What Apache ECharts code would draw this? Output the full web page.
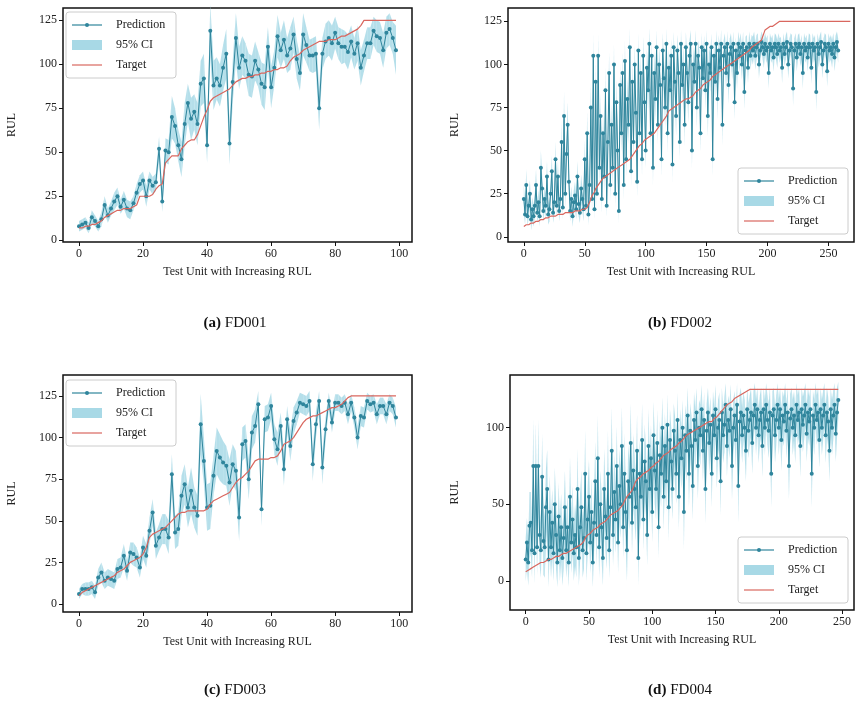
<!DOCTYPE html>
<html lang="en">
<head>
  <meta charset="UTF-8">
  <title>RUL prediction</title>
  <script src="https://cdn.jsdelivr.net/npm/echarts@6/dist/echarts.min.js"></script>
</head>
<body style="margin:0;background:#fff">
  <div id="main" style="width:859px;height:705px;"></div>
  <script>
    // values (estimates)
    const predA = [8,9,10,7,13,11,8,12,20,14, 18,22,25,19,23,18,17,21,27,32, 34,25,34,31,33,52,22,51,50,70,
      65,54,46,66,78,69,73,66,89,92, 54,119,88,92,88,98,106,55,90,115, 98,105,102,94,93,102,97,89,87,110,
      87,98,116,108,114,105,109,117,103,95, 117,111,105,105,106,75,106,113,115,112, 118,112,110,110,107,113,106,112,98,105,
      112,112,119,116,115,108,118,120,115,108];
    const targetA = [7,7,8,8,9,9,10,11,13,14, 15,16,17,17,18,18,18,19,20,25, 25,25,25,26,29,31,32,44,46,48,
      48,48,52,54,56,57,57,60,65,70, 74,79,81,82,83,84,85,86,88,90, 91,92,92,93,93,94,94,95,95,96,
      96,97,97,98,98,99,102,104,105,106, 108,109,110,111,112,113,113,113,114,114, 114,115,116,116,117,118,119,120,122,125,
      125,125,125,125,125,125,125,125,125,125];
    const ciA = [3,3,3,3,4,3,3,4,5,4, 4,5,5,4,5,5,5,4,5,5, 5,6,5,5,5,7,6,7,7,12, 10,9,10,12,11,12,10,12,13,14,
      10,15,14,12,12,13,14,12,12,14, 12,11,10,12,12,11,10,12,13,11, 12,10,12,10,11,10,12,10,11,10,
      12,10,9,10,10,12,9,10,10,10, 9,9,10,9,10,9,9,10,10,9, 9,9,8,9,9,10,9,9,9,14];

    const predB = [22,13,30,12,18,25,10,16,12,18, 30,14,20,12,40,28,15,22,18,35, 13,16,25,38,14,20,45,18,35,15,
      22,55,17,70,25,48,65,32,15,22, 12,20,24,16,35,19,14,28,22,16, 45,18,60,13,30,75,22,105,16,90,
      25,105,40,70,22,60,35,85,18,55, 95,30,65,40,100,25,78,50,15,88, 60,95,30,102,45,80,65,110,38,90,
      55,100,72,32,108,60,95,45,105,78, 50,98,85,112,60,105,40,95,80,110, 65,100,88,45,108,92,75,112,60,98,
      85,105,42,110,90,70,108,95,55,112, 88,100,65,110,95,78,105,112,50,100, 90,112,75,105,98,60,110,92,108,85,
      112,70,100,95,110,45,105,90,112,80, 108,98,112,65,105,110,95,112,88,106, 110,100,112,78,108,95,112,105,110,100,
      112,84,108,110,98,112,105,110,108,112, 105,110,112,100,108,113,110,106,112,108, 110,95,112,108,110,104,112,110,106,112,
      108,110,98,112,106,110,113,100,108,112, 110,86,108,112,104,110,112,106,110,95, 112,108,110,104,112,110,98,112,108,110,
      84,112,106,110,113,100,108,112,110,96, 112,108,110,106,112,104,110,113,108];
    const targetB = [6,6,7,7,7,8,8,8,8,9, 9,9,9,10,10,10,10,11,11,11, 11,11,12,12,12,12,12,13,13,13,
      13,13,13,13,14,14,14,14,14,14, 14,14,15,15,15,15,15,16,16,16, 16,17,17,18,20,22,24,25,26,28,
      29,30,31,32,33,34,35,35,36,36, 37,37,38,38,39,39,40,40,41,41, 42,42,43,43,43,44,44,45,46,47,
      48,49,50,51,52,53,54,54,55,56, 56,57,58,58,59,59,60,60,61,62, 63,64,65,66,67,68,69,70,71,73,
      74,74,75,75,76,76,77,77,78,78, 79,79,79,80,80,80,81,81,82,82, 83,84,84,85,86,86,87,88,88,89,
      90,90,91,91,92,93,93,94,95,95, 96,96,97,97,98,98,99,99,100,100, 101,101,102,102,103,103,104,104,105,105,
      106,106,107,107,108,108,109,110,110,111, 111,112,112,113,113,114,116,118,120,121, 121,122,122,122,122,123,123,124,124,125,
      125,125,125,125,125,125,125,125,125,125, 125,125,125,125,125,125,125,125,125,125, 125,125,125,125,125,125,125,125,125,125,
      125,125,125,125,125,125,125,125,125,125, 125,125,125,125,125,125,125,125,125,125, 125,125,125,125,125,125,125,125,125];
    const ciB = [8,6,9,6,7,8,6,7,6,7, 9,6,7,6,10,8,6,7,7,9, 6,7,8,9,6,7,10,7,9,6,
      7,12,7,14,8,11,13,9,6,7, 6,7,8,6,9,7,6,8,7,7, 11,7,13,6,9,14,8,12,7,13,
      8,12,10,13,8,12,9,13,7,11, 12,9,12,10,12,8,13,11,7,12, 11,12,9,12,10,12,11,11,9,12,
      11,11,12,9,10,11,12,10,11,12, 10,11,12,9,11,10,10,12,12,10, 11,10,12,10,10,11,12,9,11,10,
      12,10,10,9,11,12,9,11,10,8, 11,10,12,9,10,12,9,8,10,10, 11,8,12,9,10,11,8,10,9,11,
      8,12,10,11,8,10,9,11,8,12, 9,10,8,12,9,8,10,7,11,9, 8,9,7,10,8,9,7,9,8,9,
      7,10,8,7,9,7,8,7,8,7, 8,7,6,8,7,6,7,8,6,7, 7,9,6,7,7,8,6,7,8,6,
      7,6,9,6,7,7,6,8,7,6, 7,10,7,6,8,7,6,7,7,9, 6,7,7,8,6,7,9,6,7,7,
      11,6,8,7,6,8,7,6,7,9, 6,7,7,8,6,8,7,6,7];

    const predC = [6,9,9,9,10,7,16,19,14,16, 15,14,21,22,29,20,31,30,28,22, 34,29,44,55,35,40,45,45,40,78,
      43,45,65,72,58,68,58,53,108,86, 58,59,77,92,88,85,83,73,84,80, 52,96,98,75,103,107,120,57,111,112,
      119,99,93,107,81,111,95,110,115,121, 120,119,122,84,108,122,82,105,122,109, 121,121,119,121,114,121,112,100,113,112,
      122,120,121,114,119,119,114,121,119,112];
    const targetC = [5,7,8,9,10,11,12,13,14,15, 16,17,19,20,21,23,25,26,27,28, 30,34,40,42,43,44,45,46,48,50,
      52,54,55,55,56,56,56,56,56,56, 57,60,62,63,64,65,66,67,70,73, 75,76,78,80,83,86,87,87,87,87,
      88,88,89,92,96,97,98,100,103,106, 109,111,112,113,113,114,115,116,117,118, 118,119,120,122,124,125,125,125,125,125,
      125,125,125,125,125,125,125,125,125,125];
    const ciC = [3,3,4,4,4,4,5,6,5,5, 5,5,6,6,7,6,6,7,6,6, 7,7,8,8,8,8,9,9,10,12, 10,10,12,12,12,14,12,12,18,14,
      14,14,12,14,14,13,12,14,12,12, 14,10,10,12,10,10,8,10,8,8, 8,9,10,8,10,8,9,8,7,6,
      6,6,6,10,8,6,10,7,5,6, 5,5,5,5,6,5,6,7,6,6, 5,5,5,6,5,5,6,5,5,6];

    const predD = [14,25,12,36,38,20,75,18,75,22, 75,30,20,68,26,22,48,60,14,45, 22,38,18,50,30,12,42,20,35,15,
      28,48,20,35,12,55,25,40,18,30, 22,60,15,35,48,20,28,70,18,40, 55,25,45,12,38,65,30,80,22,50,
      35,15,60,42,28,70,20,48,85,30, 58,40,75,25,62,50,88,35,70,45, 20,65,55,90,38,72,60,48,85,15,
      70,55,92,40,78,65,30,88,60,80, 45,95,72,60,90,35,82,70,100,55, 88,65,102,48,92,78,60,98,85,70,
      105,55,92,80,100,45,95,85,108,70, 98,88,62,105,92,110,75,100,95,112, 85,105,60,98,110,90,102,70,108,95,
      112,80,100,105,65,110,95,102,115,88, 105,98,112,75,100,108,92,115,62,104, 110,95,108,100,85,112,98,105,110,90,
      108,115,100,112,95,105,110,88,112,100, 115,105,98,110,70,108,112,95,105,115, 100,112,92,108,104,115,98,110,75,106,
      112,100,108,95,115,105,110,88,112,102, 108,115,96,110,104,112,70,108,100,115, 105,110,92,112,100,108,115,95,110,104,
      85,112,100,108,115,96,110,118];
    const targetD = [6,6,7,7,8,8,9,9,10,10, 11,11,12,12,12,13,13,13,14,14, 14,15,15,15,16,16,16,17,17,17,
      18,18,18,19,19,19,20,20,21,21, 22,22,23,23,24,25,26,28,29,30, 31,31,32,33,33,34,35,35,36,37,
      37,38,39,39,40,41,42,43,43,44, 45,45,46,46,47,48,49,50,52,53, 55,56,57,58,59,61,63,65,66,67,
      67,68,69,70,70,71,72,72,73,74, 74,75,76,77,77,78,79,80,81,82, 82,83,84,84,85,86,86,87,88,88,
      89,90,90,91,92,93,94,95,96,96, 97,97,98,98,99,99,100,100,101,101, 102,102,103,103,103,104,104,104,105,106,
      106,107,108,109,110,111,112,113,114,115, 116,116,117,117,118,119,119,120,120,121, 121,122,122,123,123,124,124,125,125,125,
      125,125,125,125,125,125,125,125,125,125, 125,125,125,125,125,125,125,125,125,125, 125,125,125,125,125,125,125,125,125,125,
      125,125,125,125,125,125,125,125,125,125, 125,125,125,125,125,125,125,125,125,125, 125,125,125,125,125,125,125,125,125,125,
      125,125,125,125,125,125,125,125];
    const ciD = [14,16,15,22,20,18,30,20,28,18, 30,20,18,28,22,20,25,26,18,24, 20,22,18,24,22,16,22,20,22,18,
      20,24,18,22,16,26,20,22,18,20, 20,26,18,22,24,18,20,28,18,22, 24,20,22,16,20,26,20,28,20,22,
      22,18,26,22,20,28,18,22,28,20, 24,22,26,20,24,22,26,20,26,22, 20,24,22,26,20,24,22,22,24,18,
      22,22,24,20,24,22,20,24,22,22, 20,22,22,20,22,20,22,22,20,22, 22,20,20,22,20,22,20,18,22,20,
      18,22,20,20,18,24,20,20,18,22, 18,20,22,18,20,16,22,18,20,16, 20,18,22,18,16,20,18,22,16,18,
      16,20,18,18,22,16,18,18,14,20, 16,18,16,22,18,16,18,14,24,18, 16,18,16,18,20,14,18,16,16,20,
      16,14,18,14,18,16,16,20,14,18, 14,16,18,16,22,16,14,18,16,14, 18,14,20,16,16,14,18,16,22,16,
      14,18,16,18,14,16,16,20,14,18, 16,14,18,16,16,14,22,16,18,14, 16,16,18,14,18,16,14,18,16,16,
      20,14,18,16,14,18,16,12];

    const xTicksA = [0, 20, 40, 60, 80, 100];
    const xTicksB = [0, 50, 100, 150, 200, 250];
    const yTicksA = [0, 25, 50, 75, 100, 125];
    const yTicksD = [0, 50, 100];
    const captions = ['FD001', 'FD002', 'FD003', 'FD004'];

    const PRED = '#2f859c', CI = '#a8d9e6', TGT = '#d9675f';
    const FONT = '"Liberation Serif", "DejaVu Serif", serif';

    var myChart = echarts.init(document.getElementById('main'));

    const panels = [
      { pred: predA, target: targetA, ci: ciA, grid: { left: 63, top: 8, width: 349, height: 234 }, xr: [-5, 104], yr: [-1, 132], xt: xTicksA, yt: yTicksA, legend: [66, 12], cap: [235, 323], ylab: 12 },
      { pred: predB, target: targetB, ci: ciB, grid: { left: 508, top: 8, width: 346, height: 234 }, xr: [-13, 271], yr: [-3, 132.7], xt: xTicksB, yt: yTicksA, legend: [738, 168], cap: [680, 323], ylab: 455 },
      { pred: predC, target: targetC, ci: ciC, grid: { left: 63, top: 375, width: 349, height: 237 }, xr: [-5, 104], yr: [-4.8, 137.6], xt: xTicksA, yt: yTicksA, legend: [66, 380], cap: [235, 690], ylab: 12 },
      { pred: predD, target: targetD, ci: ciD, grid: { left: 510, top: 375, width: 344, height: 235 }, xr: [-12.4, 259.4], yr: [-19, 134.4], xt: xTicksB, yt: yTicksD, legend: [738, 537], cap: [680, 690], ylab: 455 }
    ];

    // CI band: one quad per segment between unit k and k+1
    function renderBand(params, api) {
      const k = api.value(0);
      if (k >= params.dataInsideLength - 1 && k === api.value(3)) return;
      const a1 = api.coord([k, api.value(1)]), a2 = api.coord([k, api.value(2)]);
      const b1 = api.coord([k + 1, api.value(4)]), b2 = api.coord([k + 1, api.value(5)]);
      return {
        type: 'polygon',
        shape: { points: [a1, b1, b2, a2] },
        style: { fill: CI, opacity: 0.85 },
        clipPath: undefined
      };
    }

    const grids = [], xAxes = [], yAxes = [], series = [], graphics = [];
    panels.forEach((p, i) => {
      grids.push(Object.assign({ show: true, borderColor: '#111', borderWidth: 1.5, backgroundColor: 'transparent' }, p.grid));
      xAxes.push({
        type: 'value', gridIndex: i, min: p.xr[0], max: p.xr[1],
        name: 'Test Unit with Increasing RUL', nameLocation: 'middle', nameGap: 24,
        nameTextStyle: { fontFamily: FONT, fontSize: 12, color: '#222' },
        axisLine: { show: false, onZero: false }, splitLine: { show: false },
        axisTick: { show: true, inside: false, length: 4, lineStyle: { color: '#111' }, customValues: p.xt },
        axisLabel: { fontFamily: FONT, fontSize: 12, color: '#222', margin: 6, customValues: p.xt }
      });
      yAxes.push({
        type: 'value', gridIndex: i, min: p.yr[0], max: p.yr[1],
        axisLine: { show: false, onZero: false }, splitLine: { show: false },
        axisTick: { show: true, inside: false, length: 4, lineStyle: { color: '#111' }, customValues: p.yt },
        axisLabel: { fontFamily: FONT, fontSize: 12, color: '#222', margin: 6, customValues: p.yt }
      });
      const n = p.pred.length;
      const bandData = p.pred.map((v, k) => {
        const j = Math.min(k + 1, n - 1);
        return [k, v - p.ci[k], v + p.ci[k], j, p.pred[j] - p.ci[j], p.pred[j] + p.ci[j]];
      }).slice(0, n - 1);
      series.push({
        type: 'custom', xAxisIndex: i, yAxisIndex: i, data: bandData, renderItem: (params, api) => {
          const k = api.value(0);
          const a1 = api.coord([k, api.value(1)]), a2 = api.coord([k, api.value(2)]);
          const b1 = api.coord([k + 1, api.value(4)]), b2 = api.coord([k + 1, api.value(5)]);
          return { type: 'polygon', shape: { points: [a1, b1, b2, a2] }, style: { fill: CI, opacity: 0.85 } };
        },
        encode: { x: 0, y: [1, 2] }, silent: true, z: 1
      });
      series.push({
        type: 'line', xAxisIndex: i, yAxisIndex: i, data: p.target.map((v, k) => [k, v]),
        symbol: 'none', lineStyle: { color: TGT, width: 1.2 }, z: 3
      });
      series.push({
        type: 'line', xAxisIndex: i, yAxisIndex: i, data: p.pred.map((v, k) => [k, v]),
        symbol: 'circle', symbolSize: 4, itemStyle: { color: PRED }, lineStyle: { color: PRED, width: 1 }, z: 2
      });

      // y axis title
      graphics.push({
        type: 'text', x: p.ylab, y: p.grid.top + p.grid.height / 2, rotation: Math.PI / 2,
        style: { text: 'RUL', font: '12px ' + FONT, fill: '#222', align: 'center', verticalAlign: 'middle' }
      });
      // caption
      graphics.push({
        type: 'text', x: p.cap[0], y: p.cap[1],
        style: {
          text: '{b|(' + 'abcd'[i] + ')} ' + captions[i], font: '15px ' + FONT, fill: '#111', align: 'center', verticalAlign: 'middle',
          rich: { b: { fontWeight: 'bold', fontFamily: FONT, fontSize: 15 } }
        }
      });
      // legend box
      const [lx, ly] = p.legend;
      graphics.push({
        type: 'group', x: lx, y: ly, z: 10, children: [
          { type: 'rect', shape: { x: 0, y: 0, width: 110, height: 66, r: 3 }, style: { fill: 'rgba(255,255,255,0.85)', stroke: '#ccc', lineWidth: 1 } },
          { type: 'line', shape: { x1: 6, y1: 13, x2: 36, y2: 13 }, style: { stroke: PRED, lineWidth: 1.2 } },
          { type: 'circle', shape: { cx: 21, cy: 13, r: 2 }, style: { fill: PRED } },
          { type: 'text', x: 50, y: 13, style: { text: 'Prediction', font: '12px ' + FONT, fill: '#222', verticalAlign: 'middle' } },
          { type: 'rect', shape: { x: 6, y: 28, width: 30, height: 10 }, style: { fill: CI } },
          { type: 'text', x: 50, y: 33, style: { text: '95% CI', font: '12px ' + FONT, fill: '#222', verticalAlign: 'middle' } },
          { type: 'line', shape: { x1: 6, y1: 53, x2: 36, y2: 53 }, style: { stroke: TGT, lineWidth: 1.2 } },
          { type: 'text', x: 50, y: 53, style: { text: 'Target', font: '12px ' + FONT, fill: '#222', verticalAlign: 'middle' } }
        ]
      });
    });

    const option = {
      backgroundColor: '#fff',
      animation: false,
      grid: grids,
      xAxis: xAxes,
      yAxis: yAxes,
      series: series,
      graphic: graphics
    };

    myChart.setOption(option);
  </script>
</body>
</html>
